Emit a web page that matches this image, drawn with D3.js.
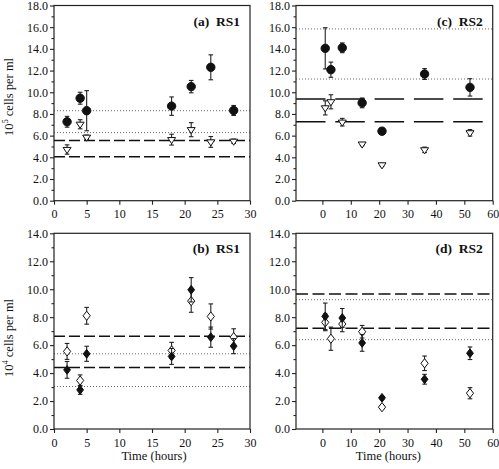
<!DOCTYPE html>
<html><head><meta charset="utf-8">
<script src="https://cdn.jsdelivr.net/npm/d3@7"></script>
<style>
body{margin:0;background:#fff;}
svg{display:block;}
svg text{font-family:"Liberation Serif","Times New Roman",serif !important;}
</style></head>
<body><svg id="chart" width="499" height="469"></svg>
<script>
// ---- data ----
const timesRS1 = [2, 4, 5, 18, 21, 24, 27.5];
const timesRS2 = [1, 3, 7, 14, 21, 36, 52];

// (a) RS1, 10^5 cells per ml
const aFilled    = [7.28, 9.45, 8.3, 8.72, 10.52, 12.3, 8.32];
const aFilledErr = [0.5, 0.55, 1.85, 0.85, 0.57, 1.15, 0.46];
const aOpen      = [4.72, 7.05, 5.85, 5.63, 6.55, 5.42, 5.48];
const aOpenErr   = [0.43, 0.42, 0.2, 0.5, 0.65, 0.5, 0.2];
const aDashed    = [5.55, 4.05];
const aDotted    = [8.3, 6.28];

// (c) RS2, 10^5 cells per ml
const cFilled    = [14.05, 12.08, 14.1, 9.02, 6.41, 11.68, 10.45];
const cFilledErr = [1.9, 0.7, 0.45, 0.45, 0.3, 0.5, 0.8];
const cOpen      = [8.56, 9.12, 7.24, 5.22, 3.3, 4.69, 6.26];
const cOpenErr   = [0.65, 0.65, 0.35, 0.15, 0.15, 0.25, 0.3];
const cDashed    = [9.38, 7.28];
const cDotted    = [15.84, 11.22];

// (b) RS1, 10^4 cells per ml
const bFilled    = [4.23, 2.8, 5.38, 5.19, 9.96, 6.57, 5.93];
const bFilledErr = [0.6, 0.32, 0.54, 0.57, 0.87, 0.72, 0.54];
const bOpen      = [5.55, 3.47, 8.1, 5.62, 9.15, 8.05, 6.57];
const bOpenErr   = [0.57, 0.4, 0.6, 0.58, 0.8, 0.9, 0.6];
const bDashed    = [6.64, 4.4];
const bDotted    = [5.38, 3.04];

// (d) RS2, 10^4 cells per ml
const dFilled    = [8.06, null, 7.94, 6.16, 2.23, 3.56, 5.42];
const dFilledErr = [0.95, null, 0.68, 0.6, 0.12, 0.35, 0.45];
const dOpen      = [7.63, 6.46, 7.51, 6.96, 1.56, 4.7, 2.56];
const dOpenErr   = [0.6, 0.83, 0.55, 0.45, 0.1, 0.52, 0.4];
const dDashed    = [9.65, 7.2];
const dDotted    = [9.25, 6.39];

const xTicksRS1 = [0, 5, 10, 15, 20, 25, 30];
const xTicksRS2 = [0, 10, 20, 30, 40, 50, 60];
const yTicksTop = [0, 2, 4, 6, 8, 10, 12, 14, 16, 18];
const yTicksBottom = [0, 2, 4, 6, 8, 10, 12, 14];

const panelLabels = ["(a)  RS1", "(c)  RS2", "(b)  RS1", "(d)  RS2"];
const yTitleTop = ["10", "5", " cells per ml"];
const yTitleBottom = ["10", "4", " cells per ml"];
const xTitle = "Time (hours)";

// ---- drawing ----
const svg = d3.select("#chart");
const FONT = 12;
const SERIF = '"Liberation Serif", "Times New Roman", serif';

function triDown(s) {
  const h = s * 0.95;
  return `M${-s},${-h * 0.55}L${s},${-h * 0.55}L0,${h * 1.05}Z`;
}
function diamond(w, h) {
  return `M0,${-h}L${w},0L0,${h}L${-w},0Z`;
}

function drawPanel(cfg) {
  const g = svg.append("g");
  const x = d3.scaleLinear().domain(cfg.xDomain).range([cfg.left, cfg.right]);
  const y = d3.scaleLinear().domain([0, cfg.yMax]).range([cfg.bottom, cfg.top]);

  // reference lines
  g.selectAll("line.dot").data(cfg.dotted).join("line")
    .attr("x1", cfg.left).attr("x2", cfg.right)
    .attr("y1", d => y(d)).attr("y2", d => y(d))
    .attr("stroke", "#6a6a6a").attr("stroke-width", 1)
    .attr("stroke-dasharray", "1,2");
  g.selectAll("line.dash").data(cfg.dashed).join("line")
    .attr("x1", cfg.left).attr("x2", cfg.right)
    .attr("y1", d => y(d)).attr("y2", d => y(d))
    .attr("stroke", "#111").attr("stroke-width", 1.5)
    .attr("stroke-dasharray", cfg.dash);

  // frame
  g.append("rect")
    .attr("x", cfg.left).attr("y", cfg.top)
    .attr("width", cfg.right - cfg.left).attr("height", cfg.bottom - cfg.top)
    .attr("fill", "none").attr("stroke", "#222").attr("stroke-width", 1.2);

  // y axis
  const yAx = g.append("g").attr("transform", `translate(${cfg.left},0)`)
    .call(d3.axisLeft(y).tickValues(cfg.yTicks).tickFormat(d3.format(".1f"))
      .tickSize(4).tickPadding(2));
  const minor = d3.range(1, cfg.yMax, 2);
  const yMin = g.append("g").attr("transform", `translate(${cfg.left},0)`)
    .call(d3.axisLeft(y).tickValues(minor).tickFormat("").tickSize(2.5));
  // x axis
  const xAx = g.append("g").attr("transform", `translate(0,${cfg.bottom})`)
    .call(d3.axisBottom(x).tickValues(cfg.xTicks).tickSize(4).tickPadding(5));
  [yAx, yMin, xAx].forEach(a => {
    a.attr("font-family", SERIF).attr("font-size", FONT);
    a.select(".domain").remove();
    a.selectAll("line").attr("stroke", "#222").attr("stroke-width", 1.1);
    a.selectAll("text").style("font-family", SERIF)
      .attr("font-size", FONT).attr("fill", "#111");
  });

  // series
  const idx = d3.range(cfg.times.length);
  function series(vals, errs, shape) {
    const pts = idx.filter(i => vals[i] != null);
    const eg = g.append("g").attr("stroke", "#222").attr("stroke-width", 1.1);
    pts.forEach(i => {
      const cx = x(cfg.times[i]);
      const y0 = y(vals[i] - errs[i]), y1 = y(vals[i] + errs[i]);
      eg.append("line").attr("x1", cx).attr("x2", cx).attr("y1", y0).attr("y2", y1);
      eg.append("line").attr("x1", cx - 2.3).attr("x2", cx + 2.3).attr("y1", y0).attr("y2", y0);
      eg.append("line").attr("x1", cx - 2.3).attr("x2", cx + 2.3).attr("y1", y1).attr("y2", y1);
    });
    g.append("g").selectAll("path").data(pts).join("path")
      .attr("transform", i => `translate(${x(cfg.times[i])},${y(vals[i])})`)
      .attr("d", shape.d)
      .attr("fill", shape.fill)
      .attr("stroke", "#111").attr("stroke-width", 1);
  }
  series(cfg.openVals, cfg.openErr, cfg.openShape);
  series(cfg.filledVals, cfg.filledErr, cfg.filledShape);

  // panel label
  g.append("text").attr("x", cfg.right - 10).attr("y", cfg.top + 20)
    .attr("text-anchor", "end").attr("font-weight", "bold").attr("font-size", 13.5)
    .attr("fill", "#111").attr("xml:space", "preserve").style("white-space", "pre")
    .text(cfg.label);
}

const circleShape = { d: d3.symbol().type(d3.symbolCircle).size(Math.PI * 4.2 * 4.2)(), fill: "#111" };
const triShape = { d: triDown(4.0), fill: "#fff" };
const diaFilled = { d: diamond(3.4, 4.4), fill: "#111" };
const diaOpen = { d: diamond(3.6, 4.6), fill: "#fff" };

const leftL = 54, rightL = 250, leftR = 296, rightR = 492.7;
const topT = 5.5, botT = 200.7, topB = 233.3, botB = 429;

drawPanel({ xDomain: [0, 30], left: leftL, right: rightL, top: topT, bottom: botT, yMax: 18,
  yTicks: yTicksTop, xTicks: xTicksRS1, times: timesRS1,
  filledVals: aFilled, filledErr: aFilledErr, openVals: aOpen, openErr: aOpenErr,
  filledShape: circleShape, openShape: triShape,
  dashed: aDashed, dotted: aDotted, dash: "11,4", label: panelLabels[0] });

drawPanel({ xDomain: [-9.3, 60], left: leftR, right: rightR, top: topT, bottom: botT, yMax: 18,
  yTicks: yTicksTop, xTicks: xTicksRS2, times: timesRS2,
  filledVals: cFilled, filledErr: cFilledErr, openVals: cOpen, openErr: cOpenErr,
  filledShape: circleShape, openShape: triShape,
  dashed: cDashed, dotted: cDotted, dash: "29.5,9.8", label: panelLabels[1] });

drawPanel({ xDomain: [0, 30], left: leftL, right: rightL, top: topB, bottom: botB, yMax: 14,
  yTicks: yTicksBottom, xTicks: xTicksRS1, times: timesRS1,
  filledVals: bFilled, filledErr: bFilledErr, openVals: bOpen, openErr: bOpenErr,
  filledShape: diaFilled, openShape: diaOpen,
  dashed: bDashed, dotted: bDotted, dash: "11,4", label: panelLabels[2] });

drawPanel({ xDomain: [-9.3, 60], left: leftR, right: rightR, top: topB, bottom: botB, yMax: 14,
  yTicks: yTicksBottom, xTicks: xTicksRS2, times: timesRS2,
  filledVals: dFilled, filledErr: dFilledErr, openVals: dOpen, openErr: dOpenErr,
  filledShape: diaFilled, openShape: diaOpen,
  dashed: dDashed, dotted: dDotted, dash: "12,4.5", label: panelLabels[3] });

// y titles
function yTitle(parts, cy) {
  const t = svg.append("text").attr("transform", `translate(13,${cy}) rotate(-90)`)
    .attr("text-anchor", "middle").attr("font-size", 12.5).attr("fill", "#111");
  t.append("tspan").text(parts[0]);
  t.append("tspan").attr("dy", -5).attr("font-size", 8.5).text(parts[1]);
  t.append("tspan").attr("dy", 5).text(parts[2]);
}
yTitle(yTitleTop, 97);
yTitle(yTitleBottom, 338);

// x titles
[(leftL + rightL) / 2 + 2, (leftR + rightR) / 2 - 6].forEach(cx => {
  svg.append("text").attr("x", cx).attr("y", 460).attr("text-anchor", "middle")
    .attr("font-size", 12.5).attr("fill", "#111").text(xTitle);
});
</script></body></html>
